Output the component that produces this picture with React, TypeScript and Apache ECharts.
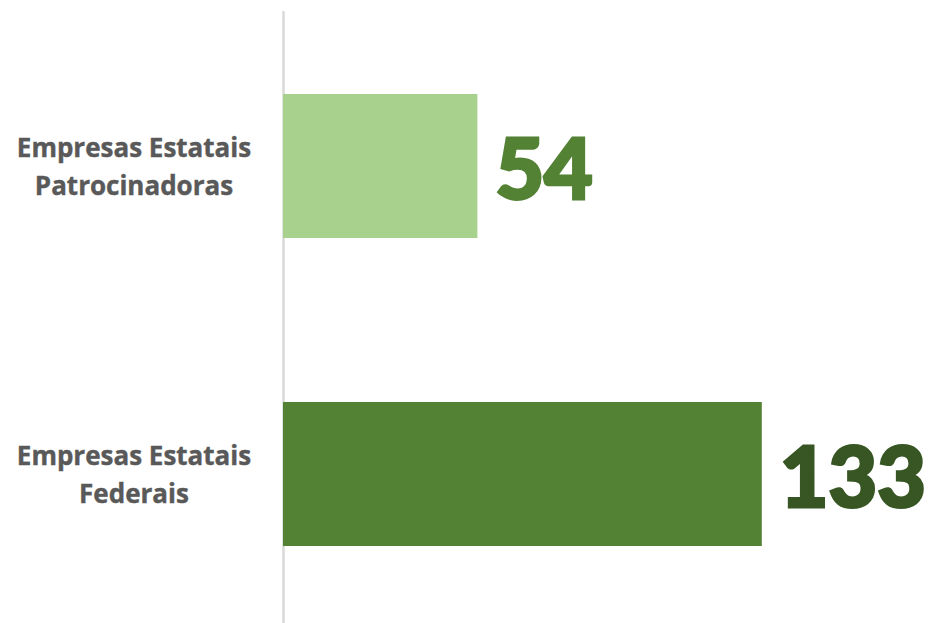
import React, { useEffect, useRef } from "react";
import * as echarts from "echarts";

const categories = ["Empresas Estatais\nPatrocinadoras", "Empresas Estatais\nFederais"];
const values = [54, 133];
const barColors = ["#a9d18e", "#548235"];
const labelColors = ["#548235", "#375623"];

export default function App() {
  const ref = useRef<HTMLDivElement>(null);
  useEffect(() => {
    if (!ref.current) return;
    const chart = echarts.init(ref.current, null, { renderer: "svg" });
    chart.setOption({
      animation: false,
      grid: { left: 283, top: 12, width: 540, height: 616, outerBoundsMode: "none", containLabel: false },
      xAxis: {
        type: "value",
        min: 0,
        max: 150,
        show: false,
      },
      yAxis: {
        type: "category",
        inverse: true,
        data: categories,
        axisLine: { show: true, lineStyle: { color: "#d9d9d9", width: 2.5 } },
        axisTick: { show: false },
        axisLabel: {
          align: "center",
          margin: 149,
          color: "#595959",
          fontFamily: "Open Sans",
          fontWeight: "bold",
          fontSize: 26,
          lineHeight: 38,
          textBorderColor: "#595959",
          textBorderWidth: 0.4,
        },
      },
      series: [
        {
          type: "bar",
          barWidth: 144,
          data: values.map((v, i) => ({
            value: v,
            itemStyle: { color: barColors[i] },
            label: { color: labelColors[i], textBorderColor: labelColors[i] },
          })),
          label: {
            show: true,
            position: "right",
            distance: 18,
            fontFamily: "Lato",
            fontWeight: 900,
            fontSize: 84,
            textBorderWidth: 3,
          },
        },
      ],
    });
    return () => chart.dispose();
  }, []);
  return (
    <div
      ref={ref}
      style={{ position: "fixed", left: 0, top: 0, width: 933, height: 623, background: "#fff" }}
    />
  );
}
